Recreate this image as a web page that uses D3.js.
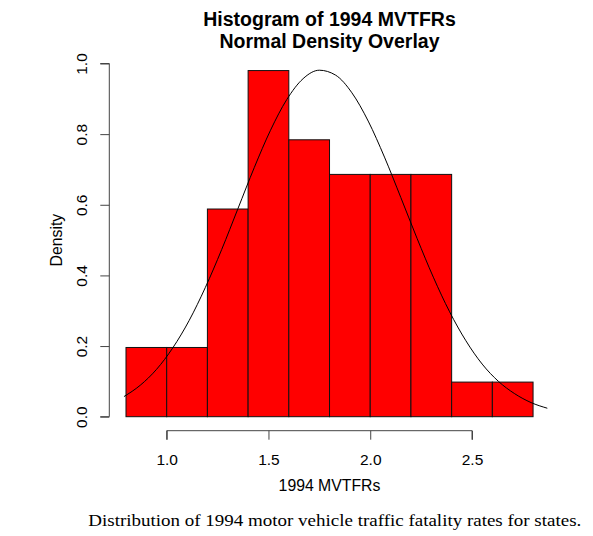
<!DOCTYPE html>
<html>
<head>
<meta charset="utf-8">
<script src="https://cdn.jsdelivr.net/npm/d3@7"></script>
<style>
  html, body { margin: 0; padding: 0; background: #fff; }
  svg { display: block; }
</style>
</head>
<body>
<svg id="chart" width="593" height="536"></svg>
<script>
// Histogram bins (break edges) and densities
const binStarts = [0.8, 1.0, 1.2, 1.4, 1.6, 1.8, 2.0, 2.2, 2.4, 2.6];
const binEnds   = [1.0, 1.2, 1.4, 1.6, 1.8, 2.0, 2.2, 2.4, 2.6, 2.8];
const densities = [0.196, 0.196, 0.588, 0.980, 0.784, 0.686, 0.686, 0.686, 0.098, 0.098];

// Normal density overlay
const curveX = [0.79, 0.87, 0.95, 1.03, 1.11, 1.19, 1.27, 1.35, 1.43, 1.51, 1.59, 1.67, 1.75, 1.83,
                1.91, 1.99, 2.07, 2.15, 2.23, 2.31, 2.39, 2.47, 2.55, 2.63, 2.71, 2.79, 2.87];
const curveY = [0.057, 0.089, 0.134, 0.195, 0.272, 0.366, 0.473, 0.589, 0.705, 0.811, 0.898, 0.957, 0.981, 0.967,
                0.917, 0.837, 0.735, 0.621, 0.505, 0.395, 0.297, 0.215, 0.149, 0.100, 0.065, 0.040, 0.024];

const xTicks = [1.0, 1.5, 2.0, 2.5];
const yTicks = [0.0, 0.2, 0.4, 0.6, 0.8, 1.0];

const titleLines = ["Histogram of 1994 MVTFRs", "Normal Density Overlay"];
const xLabel = "1994 MVTFRs";
const yLabel = "Density";
const caption = "Distribution of 1994 motor vehicle traffic fatality rates for states.";

const svg = d3.select("#chart");
const x = d3.scaleLinear().domain([1.0, 2.5]).range([166.7, 472.0]);
const y = d3.scaleLinear().domain([0, 1]).range([416.7, 63.5]);

const sans = "'Liberation Sans', Arial, Helvetica, sans-serif";
const axisColor = "#444";
const tickFont = "15.5px";
const labelFont = "15.8px";

// Bars
svg.append("g").selectAll("rect")
  .data(densities)
  .join("rect")
  .attr("x", (d, i) => x(binStarts[i]))
  .attr("width", (d, i) => x(binEnds[i]) - x(binStarts[i]))
  .attr("y", d => y(d))
  .attr("height", d => y(0) - y(d))
  .attr("fill", "#ff0000")
  .attr("stroke", "#111")
  .attr("stroke-width", 1);

// Curve
const pts = curveX.map((v, i) => [v, curveY[i]]);
svg.append("path")
  .datum(pts)
  .attr("d", d3.line().x(d => x(d[0])).y(d => y(d[1])).curve(d3.curveMonotoneX))
  .attr("fill", "none")
  .attr("stroke", "#000")
  .attr("stroke-width", 1);

// X axis (R style)
const xAxis = d3.axisBottom(x).tickValues(xTicks).tickFormat(d3.format(".1f")).tickSize(9).tickPadding(14).tickSizeOuter(0);
const gx = svg.append("g").attr("transform", "translate(0,430.7)").call(xAxis);
gx.select(".domain").attr("d", `M${x(xTicks[0])},9V0H${x(xTicks[xTicks.length-1])}V9`).attr("stroke", axisColor);
gx.selectAll(".tick line").attr("stroke", axisColor);
gx.selectAll(".tick text").attr("font-family", sans).attr("font-size", tickFont).attr("fill", "#000");

// Y axis
const yAxis = d3.axisLeft(y).tickValues(yTicks).tickFormat(d3.format(".1f")).tickSize(9).tickSizeOuter(0);
const gy = svg.append("g").attr("transform", "translate(109.3,0)").call(yAxis);
gy.select(".domain").attr("d", `M-9,${y(0)}H0V${y(1)}H-9`).attr("stroke", axisColor);
gy.selectAll(".tick line").attr("stroke", axisColor);
gy.selectAll(".tick text")
  .attr("font-family", sans).attr("font-size", tickFont).attr("fill", "#000")
  .attr("x", null).attr("dy", null)
  .attr("text-anchor", "middle")
  .attr("transform", "translate(-22.8,0) rotate(-90)");

// Titles
svg.append("g").selectAll("text")
  .data(titleLines)
  .join("text")
  .attr("x", 329.5)
  .attr("y", (d, i) => 26 + i * 22)
  .attr("text-anchor", "middle")
  .attr("font-family", sans)
  .attr("font-weight", "bold")
  .attr("font-size", "19.5px")
  .text(d => d);

// Axis labels
svg.append("text")
  .attr("x", (x(0.8) + x(2.8)) / 2)
  .attr("y", 491)
  .attr("text-anchor", "middle")
  .attr("font-family", sans)
  .attr("font-size", labelFont)
  .text(xLabel);

svg.append("text")
  .attr("transform", `translate(62,${(y(0) + y(1)) / 2}) rotate(-90)`)
  .attr("text-anchor", "middle")
  .attr("font-family", sans)
  .attr("font-size", labelFont)
  .text(yLabel);

// Caption
svg.append("text")
  .attr("x", 88.3)
  .attr("y", 526)
  .attr("font-family", "'Liberation Serif', 'Times New Roman', serif")
  .attr("font-size", "17.5px")
  .attr("textLength", 493)
  .attr("lengthAdjust", "spacingAndGlyphs")
  .text(caption);
</script>
</body>
</html>
